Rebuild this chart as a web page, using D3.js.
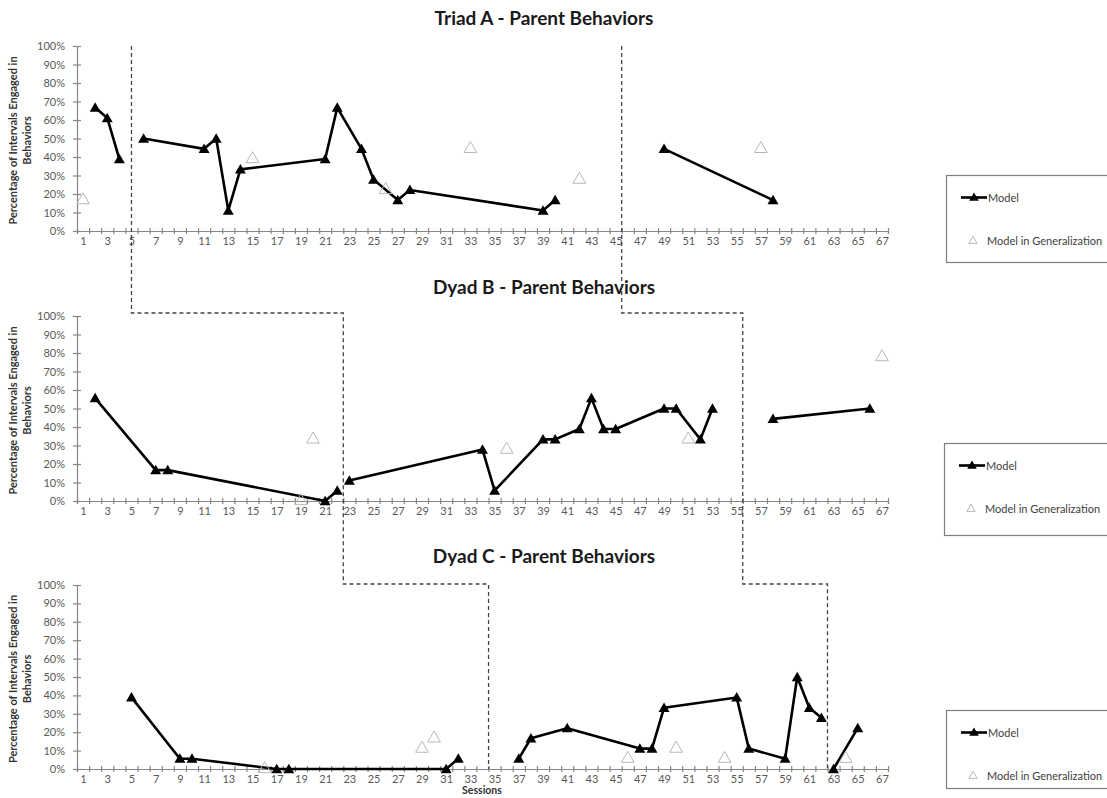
<!DOCTYPE html>
<html>
<head>
<meta charset="utf-8">
<script src="https://cdn.jsdelivr.net/npm/d3@7"></script>
<style>
  body { margin: 0; background: #fff; }
  svg { font-family: Lato, "Open Sans", sans-serif; }
</style>
</head>
<body>
<svg id="svg" width="1107" height="798"></svg>
<script>
const w = 1107;
const h = 798;

// sessions shown on the x axis
const sessions = d3.range(1, 68);
const sessionLabels = sessions.filter((s) => s % 2 === 1);
const yTicks = [0, 10, 20, 30, 40, 50, 60, 70, 80, 90, 100];

const titles = ["Triad A - Parent Behaviors", "Dyad B - Parent Behaviors", "Dyad C - Parent Behaviors"];

// Model data, null = phase break
const modelA = [
  [2, 66.7], [3, 61.1], [4, 38.9], null,
  [6, 50], [11, 44.4], [12, 50], [13, 11.1], [14, 33.3], [21, 38.9], [22, 66.7],
  [24, 44.4], [25, 27.8], [27, 16.7], [28, 22.2], [39, 11.1], [40, 16.7], null,
  [49, 44.4], [58, 16.7]
];
const modelB = [
  [2, 55.6], [7, 16.7], [8, 16.7], [21, 0], [22, 5.6], null,
  [23, 11.1], [34, 27.8], [35, 5.6], [39, 33.3], [40, 33.3], [42, 38.9], [43, 55.6],
  [44, 38.9], [45, 38.9], [49, 50], [50, 50], [52, 33.3], [53, 50], null,
  [58, 44.4], [66, 50]
];
const modelC = [
  [5, 38.9], [9, 5.6], [10, 5.6], [17, 0], [18, 0], [31, 0], [32, 5.6], null,
  [37, 5.6], [38, 16.7], [41, 22.2], [47, 11.1], [48, 11.1], [49, 33.3], [55, 38.9],
  [56, 11.1], [59, 5.6], [60, 50], [61, 33.3], [62, 27.8], null,
  [63, 0], [65, 22.2]
];

// Model in Generalization
const genA = [[1, 16.7], [15, 38.9], [26, 22.2], [33, 44.4], [42, 27.8], [57, 44.4]];
const genB = [[19, 0], [20, 33.3], [36, 27.8], [51, 33.3], [67, 77.8]];
const genC = [[16, 0], [29, 11.1], [30, 16.7], [46, 5.6], [50, 11.1], [54, 5.6], [64, 5.6]];

// phase change positions (session units), one per panel
const phase1 = [5, 22.5, 34.5];
const phase2 = [45.5, 55.5, 62.5];

const legendLabels = ["Model", "Model in Generalization"];

const models = [modelA, modelB, modelC];
const gens = [genA, genB, genC];

let svg = d3.select("#svg");

const left = 77;
const right = 888;
const panelTop = [46, 316, 585];
const panelH = [185, 185, 184];
const titleY = [25, 294, 563];
const legendBox = [[946, 175, 87], [944, 443, 92], [946, 710, 78]];

let xScale = d3.scaleLinear([0.5, 67.5], [left, right]);

const axisColor = "#868686";
const labelColor = "#595959";

for (let i = 0; i < 3; i++) {
  let top = panelTop[i];
  let yScale = d3.scaleLinear([0, 100], [top + panelH[i], top]);
  let bottom = top + panelH[i];
  let g = svg.append("g");

  // title
  g.append("text")
    .attr("x", 544)
    .attr("y", titleY[i])
    .attr("text-anchor", "middle")
    .attr("font-weight", "bold")
    .attr("font-size", 19)
    .attr("fill", "#1a1a1a")
    .text(titles[i]);

  // y axis
  let yAxis = g.append("g")
    .attr("transform", `translate(${left},0)`)
    .call(d3.axisLeft(yScale).tickValues(yTicks).tickFormat((d) => d + "%").tickSize(4).tickPadding(8));
  yAxis.selectAll(".tick line").attr("x2", 4).attr("x1", -4);

  // x axis ticks (cross) at category boundaries
  let xAxis = g.append("g")
    .attr("transform", `translate(0,${bottom})`)
    .call(d3.axisBottom(xScale).tickValues(d3.range(0.5, 68, 1)).tickFormat("").tickSize(3));
  xAxis.selectAll(".tick line").attr("y1", -3).attr("y2", 3);

  // x labels
  let xLab = g.append("g")
    .attr("transform", `translate(0,${bottom})`)
    .call(d3.axisBottom(xScale).tickValues(sessionLabels).tickSize(0).tickPadding(6));
  xLab.select(".domain").remove();

  g.selectAll(".domain, .tick line").attr("stroke", axisColor).attr("stroke-width", 1.2);
  g.selectAll(".tick text")
    .attr("fill", labelColor)
    .attr("font-size", 11)
    .attr("font-family", "Lato, sans-serif");

  // y axis title
  let yt = g.append("text")
    .attr("transform", `translate(17,${top + panelH[i] / 2 + 2}) rotate(-90)`)
    .attr("text-anchor", "middle")
    .attr("font-weight", "bold")
    .attr("font-size", 11)
    .attr("fill", "#333");
  yt.append("tspan").attr("x", 0).attr("dy", 0).text("Percentage of Intervals Engaged in");
  yt.append("tspan").attr("x", 0).attr("dy", 14).text("Behaviors");

  // model line
  let lineFunc = d3.line()
    .defined((d) => d)
    .x((d) => xScale(d[0]))
    .y((d) => yScale(d[1]));

  g.append("path")
    .datum(models[i])
    .attr("fill", "none")
    .attr("stroke", "black")
    .attr("stroke-width", 2.6)
    .attr("stroke-linejoin", "round")
    .attr("d", lineFunc);

  g.selectAll(".model-pt")
    .data(models[i].filter((d) => d))
    .join("path")
    .attr("class", "model-pt")
    .attr("transform", (d) => `translate(${xScale(d[0])},${yScale(d[1]) + 1})`)
    .attr("d", d3.symbol(d3.symbolTriangle, 52))
    .attr("fill", "black");

  g.selectAll(".gen-pt")
    .data(gens[i])
    .join("path")
    .attr("class", "gen-pt")
    .attr("transform", (d) => `translate(${xScale(d[0])},${yScale(d[1])})`)
    .attr("d", d3.symbol(d3.symbolTriangle, 70))
    .attr("fill", "none")
    .attr("stroke", "#b8b8b8")
    .attr("stroke-width", 1);

  // legend
  let lb = legendBox[i];
  let lg = svg.append("g").attr("transform", `translate(${lb[0]},${lb[1]})`);
  lg.append("rect")
    .attr("x", 0.5).attr("y", 0.5)
    .attr("width", 175).attr("height", lb[2])
    .attr("fill", "white")
    .attr("stroke", "#7f7f7f")
    .attr("stroke-width", 1.2);
  lg.append("line")
    .attr("x1", 15).attr("x2", 41).attr("y1", 22.5).attr("y2", 22.5)
    .attr("stroke", "black").attr("stroke-width", 2.6);
  lg.append("path")
    .attr("transform", "translate(28,23)")
    .attr("d", d3.symbol(d3.symbolTriangle, 40))
    .attr("fill", "black");
  lg.append("text")
    .attr("x", 42).attr("y", 26.5)
    .attr("font-size", 11).attr("fill", "#404040")
    .text(legendLabels[0]);
  lg.append("path")
    .attr("transform", "translate(27,66)")
    .attr("d", d3.symbol(d3.symbolTriangle, 30))
    .attr("fill", "none").attr("stroke", "#b8b8b8");
  lg.append("text")
    .attr("x", 41).attr("y", 70)
    .attr("font-size", 11).attr("fill", "#404040")
    .text(legendLabels[1]);
}

// Sessions label
svg.append("text")
  .attr("x", 482)
  .attr("y", 794)
  .attr("text-anchor", "middle")
  .attr("font-weight", "bold")
  .attr("font-size", 10.5)
  .attr("fill", "#333")
  .text("Sessions");

// phase change lines (staircase)
function phasePath(xs) {
  let p = d3.path();
  p.moveTo(xScale(xs[0]), panelTop[0]);
  p.lineTo(xScale(xs[0]), panelTop[1] - 3);
  p.lineTo(xScale(xs[1]), panelTop[1] - 3);
  p.lineTo(xScale(xs[1]), panelTop[2] - 1);
  p.lineTo(xScale(xs[2]), panelTop[2] - 1);
  p.lineTo(xScale(xs[2]), panelTop[2] + panelH[2]);
  return p.toString();
}

[phase1, phase2].forEach((xs) => {
  svg.append("path")
    .attr("d", phasePath(xs))
    .attr("fill", "none")
    .attr("stroke", "#444")
    .attr("stroke-width", 1.3)
    .attr("stroke-dasharray", "4,3");
});
</script>
</body>
</html>
